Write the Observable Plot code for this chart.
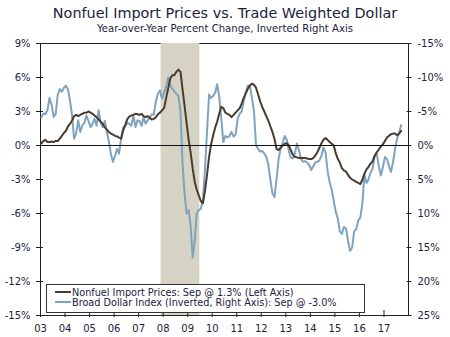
<!DOCTYPE html>
<html>
<head>
<meta charset="utf-8">
<script src="https://cdn.jsdelivr.net/npm/d3@7"></script>
<script src="https://cdn.jsdelivr.net/npm/@observablehq/plot@0.6"></script>
<style>
  body { margin: 0; background: #fff; }
  #wrap { position: relative; width: 450px; height: 337px; font-family: "DejaVu Sans", Verdana, sans-serif; color: #1b2240; }
  #title { position: absolute; left: 0; width: 450px; top: 5px; text-align: center; font-size: 14.4px; line-height: 16px; }
  #subtitle { position: absolute; left: 0; width: 450px; top: 23px; text-align: center; font-size: 10.1px; line-height: 11px; }
  #chart { position: absolute; left: 0; top: 36px; }
  #legend { position: absolute; left: 46px; top: 284px; width: 317px; height: 24px; border: 1px solid #333; background: #fff; font-size: 9.7px; line-height: 10px; padding-top: 3px; box-sizing: content-box; }
  .row { white-space: nowrap; height: 10px; }
  .sw { display: inline-block; width: 16px; height: 2.5px; vertical-align: middle; margin-left: 8px; margin-right: 1px; position: relative; top: -1px; }
</style>
</head>
<body>
<div id="wrap">
  <div id="title"></div>
  <div id="subtitle"></div>
  <div id="chart"></div>
  <div id="legend"></div>
</div>
<script>
// ---- Data (monthly, Jan 2003 - Sep 2017) ----
const titleText = "Nonfuel Import Prices vs. Trade Weighted Dollar";
const subtitleText = "Year-over-Year Percent Change, Inverted Right Axis";
const firstMonth = "2003-01";
const seriesNames = ["Nonfuel Import Prices: Sep @ 1.3% (Left Axis)", "Broad Dollar Index (Inverted, Right Axis): Sep @ -3.0%"];
const seriesColors = ["#4b3b2f", "#7fa3bf"];

// Nonfuel import prices, y/y % (left axis)
const importPrices = [
  0.2, 0.4, 0.5, 0.3, 0.3, 0.35, 0.3, 0.4, 0.4, 0.6, 0.85, 1.1,
  1.3, 1.7, 1.9, 2.2, 2.6, 2.7, 2.6, 2.7, 2.8, 2.9, 2.9, 3.0,
  2.9, 2.8, 2.65, 2.5, 2.3, 2.1, 1.9, 1.6, 1.4, 1.2, 1.05, 0.95,
  0.85, 0.8, 0.7, 0.6, 1.3, 1.8, 2.3, 2.55, 2.65, 2.7, 2.8, 2.75,
  2.7, 2.8, 2.6, 2.5, 2.6, 2.45, 2.3, 2.35, 2.5, 2.75, 2.9, 3.1,
  3.3, 4.2, 5.0, 5.9, 6.2, 6.2, 6.5, 6.7, 6.5, 5.0, 3.5, 2.0,
  0.5, -0.7, -2.0, -3.2, -3.9, -4.4, -4.9, -5.1, -4.0, -2.6, -1.0, 0.1,
  0.9, 1.6, 2.1, 2.8, 3.4, 3.3, 2.9, 2.8, 2.7, 2.5, 2.7, 2.9,
  3.1, 3.3, 3.7, 4.2, 4.6, 5.0, 5.3, 5.45, 5.35, 5.1, 4.5, 3.9,
  3.4, 3.0, 2.6, 2.2, 1.7, 1.2, 0.6, -0.3, -0.4, -0.2, 0.0, 0.15,
  0.2, 0.0, -0.4, -0.8, -1.0, -1.05, -1.1, -1.1, -1.1, -1.1, -1.15, -1.2,
  -1.2, -1.1, -0.9, -0.6, -0.2, 0.2, 0.5, 0.65, 0.5, 0.3, 0.15, 0.0,
  -0.7, -1.2, -1.5, -2.0, -2.2, -2.3, -2.6, -2.85, -3.0, -3.1, -3.2, -3.3,
  -3.4, -3.0, -2.5, -2.1, -1.9, -1.6, -1.4, -0.9, -0.6, -0.35, -0.1, 0.1,
  0.4, 0.7, 0.85, 1.0, 1.05, 1.05, 0.9, 1.05, 1.3
];

// Broad trade-weighted dollar index, y/y % (right axis, inverted)
const dollarIndex = [
  -4.2, -4.7, -4.6, -5.2, -7.0, -6.0, -4.2, -4.6, -7.5, -8.3, -7.9, -8.5,
  -8.8, -8.2, -6.6, -4.4, -1.0, -1.8, -3.7, -2.0, -3.0, -3.3, -4.4, -3.6,
  -2.7, -3.2, -3.9, -2.9, -5.2, -3.4, -2.7, -3.6, -2.0, -0.6, 1.3, 2.4,
  1.5, 0.5, 1.2, -1.0, -2.6, -2.9, -3.3, -3.2, -2.9, -4.4, -2.7, -3.7,
  -3.6, -2.9, -4.2, -3.2, -3.7, -4.1, -4.6, -4.5, -6.5, -7.6, -8.1, -6.9,
  -7.8, -8.6, -10.0, -9.0, -8.3, -8.0, -7.6, -7.3, -5.0, 2.5, 7.0, 10.0,
  9.5, 12.0, 16.5, 14.0, 10.0, 9.5, 9.3, 8.0, 3.5, -2.0, -7.5, -7.0,
  -7.3, -7.8, -9.0, -7.2, -4.0, -0.5, -1.4, -1.2, -1.4, -2.0, -1.3, -1.6,
  -4.0, -4.7, -5.0, -6.5, -7.8, -8.8, -8.8, -7.0, -5.0, 0.0, 0.5, 0.9,
  0.8, 1.2, 1.6, 2.8, 5.0, 7.0, 7.6, 5.0, 2.0, 0.5, -0.4, -1.4,
  -0.8, 0.8, 1.8, 1.9, 1.2, -0.3, 0.7, 2.0, 2.4, 2.3, 2.5, 2.9,
  3.6, 3.0, 2.5, 2.4, 2.2, 1.5, 0.3, 1.0, 3.8, 5.4, 6.5, 8.2,
  9.8, 10.8, 12.6, 13.0, 12.0, 12.2, 14.0, 15.5, 15.0, 12.6, 12.3, 11.0,
  10.6, 8.5, 4.2, 5.5, 5.0, 4.0, 3.4, 1.6, 1.2, 3.0, 4.4, 3.2,
  1.7, 2.0, 3.0, 3.9, 2.5, 0.5, -1.0, -1.9, -3.0
];

const recessions = [{start: "2007-12-01", end: "2009-06-30"}];
const leftTicks = [9, 6, 3, 0, -3, -6, -9, -12, -15];
const rightTicks = [-15, -10, -5, 0, 5, 10, 15, 20, 25];
const xYears = [2003, 2004, 2005, 2006, 2007, 2008, 2009, 2010, 2011, 2012, 2013, 2014, 2015, 2016, 2017];
const xDomainYears = [2003, 2018];

// ---- Build ----
const leftDomain = [d3.min(leftTicks), d3.max(leftTicks)];
// right axis is inverted: top = min right tick, bottom = max right tick
const rightToLeft = r => leftDomain[1] + (r - d3.min(rightTicks)) * (leftDomain[0] - leftDomain[1]) / (d3.max(rightTicks) - d3.min(rightTicks));

const [fy, fm] = firstMonth.split("-").map(Number);
const rows = importPrices.map((v, i) => ({
  date: new Date(Date.UTC(fy, fm - 1 + i, 15)),
  imp: v,
  usd: dollarIndex[i]
}));

const recRows = recessions.map(r => ({x1: new Date(r.start + "T00:00Z"), x2: new Date(r.end + "T00:00Z")}));
const yearDates = xYears.map(y => new Date(Date.UTC(y, 0, 1)));

const ink = "#222";
const labelColor = "#1b2240";

const chart = Plot.plot({
  width: 450,
  height: 301,
  marginTop: 7,
  marginBottom: 22,
  marginLeft: 40,
  marginRight: 42,
  style: {fontFamily: "DejaVu Sans, Verdana, sans-serif", fontSize: "10px", color: labelColor, background: "white", overflow: "visible"},
  x: {type: "utc", domain: xDomainYears.map(y => new Date(Date.UTC(y, 0, 1)))},
  y: {domain: leftDomain},
  marks: [
    Plot.frame({stroke: ink, strokeWidth: 1}),
    Plot.rect(recRows, {x1: "x1", x2: "x2", fill: "#d6d2c4"}),
    Plot.lineY(rows, {x: "date", y: d => rightToLeft(d.usd), stroke: seriesColors[1], strokeWidth: 2}),
    Plot.lineY(rows, {x: "date", y: "imp", stroke: seriesColors[0], strokeWidth: 2}),
    Plot.ruleY([0], {stroke: "#111", strokeWidth: 1}),
    Plot.axisY(leftTicks, {anchor: "left", tickSize: 7, dx: 3, tickPadding: 6, tickFormat: d => d + "%", label: null, stroke: ink, fill: labelColor}),
    Plot.axisY(rightTicks.map(rightToLeft), {anchor: "right", tickSize: 5, dx: -2.5, tickPadding: 6.5, tickFormat: d => Math.round(rightTicks[0] + (leftDomain[1] - d) / (leftDomain[1] - leftDomain[0]) * (rightTicks[rightTicks.length-1] - rightTicks[0])) + "%", label: null, stroke: ink, fill: labelColor}),
    Plot.axisX(yearDates, {anchor: "bottom", tickSize: 7, dy: -5, tickPadding: 7, tickFormat: d3.utcFormat("%y"), label: null, stroke: ink, fill: labelColor})
  ]
});
document.getElementById("chart").appendChild(chart);
document.getElementById("title").textContent = titleText;
document.getElementById("subtitle").textContent = subtitleText;

const legend = document.getElementById("legend");
seriesNames.forEach((name, i) => {
  const row = document.createElement("div");
  row.className = "row";
  const sw = document.createElement("span");
  sw.className = "sw";
  sw.style.background = seriesColors[i];
  row.appendChild(sw);
  row.appendChild(document.createTextNode(name));
  legend.appendChild(row);
});
</script>
</body>
</html>
